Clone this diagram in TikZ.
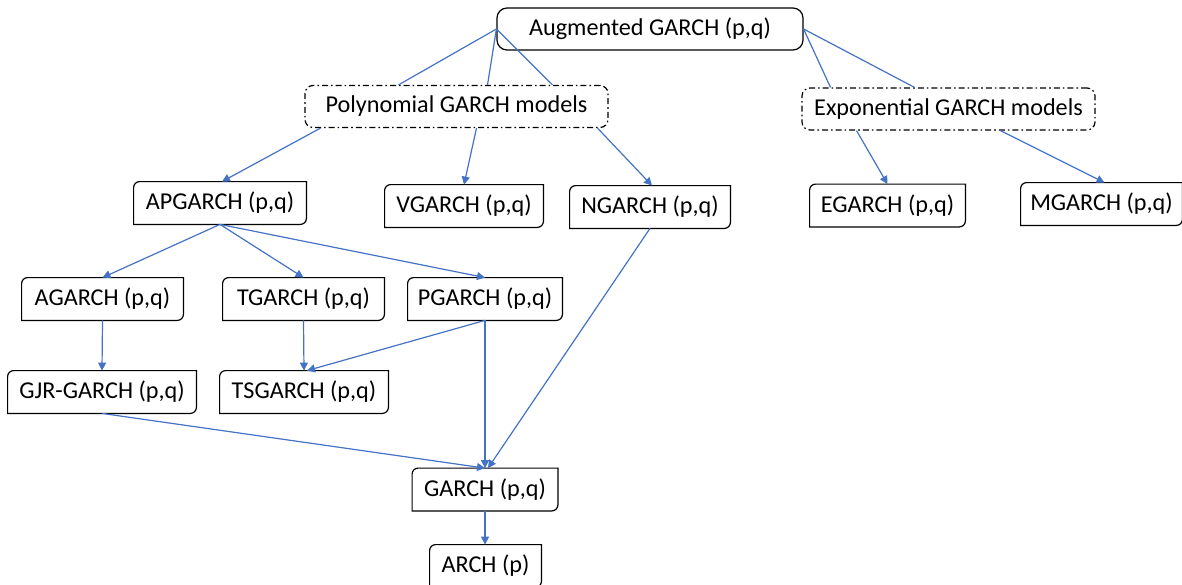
\documentclass[tikz,border=0pt]{standalone}
\usepackage{fontspec}
\setmainfont{Carlito}
\usetikzlibrary{arrows.meta}

\definecolor{linkblue}{HTML}{4472C4}

\tikzset{
    model/.style={minimum height=21pt, inner sep=0pt, font=\fontsize{12.1}{14}\selectfont},
    group/.style={model, draw, line width=0.6pt, rounded corners=4pt,
        dash pattern=on 3pt off 1.5pt on 0.8pt off 1.5pt},
    link/.style={linkblue, line width=0.6pt},
    arr/.style={link, -{Triangle[length=4pt,width=4pt]}},
}

% frame with two rounded corners (top left, bottom right)
\newcommand{\diagframe}[1]{%
    \draw[line width=0.6pt] (#1.south west) -- ([yshift=-3pt]#1.north west)
        arc[start angle=180, end angle=90, radius=3pt] -- (#1.north east)
        -- ([yshift=3pt]#1.south east)
        arc[start angle=0, end angle=-90, radius=3pt] -- cycle;}

\begin{document}
\begin{tikzpicture}[x=0.5pt, y=-0.5pt]
    \useasboundingbox (0, 0) rectangle (1182, 584);

    \node[model, draw, line width=0.6pt, rounded corners=5pt, minimum width=153pt] (aug) at (650, 29) {Augmented GARCH (p,q)};
    \node[group, minimum width=151.5pt] (poly) at (456.5, 106.5) {Polynomial GARCH models};
    \node[group, minimum width=146.5pt] (expo) at (948.5, 109) {Exponential GARCH models};

    \node[model, minimum width=86pt] (apg) at (220, 203) {APGARCH (p,q)};
    \node[model, minimum width=79pt] (vg) at (464, 206) {VGARCH (p,q)};
    \node[model, minimum width=80pt] (ng) at (650, 207) {NGARCH (p,q)};
    \node[model, minimum width=77.5pt] (eg) at (887.5, 205.5) {EGARCH (p,q)};
    \node[model, minimum width=80.5pt] (mg) at (1101.5, 204) {MGARCH (p,q)};

    \node[model, minimum width=80.5pt] (ag) at (102.5, 299) {AGARCH (p,q)};
    \node[model, minimum width=80.5pt] (tg) at (303.5, 299) {TGARCH (p,q)};
    \node[model, minimum width=77pt] (pg) at (485, 299) {PGARCH (p,q)};

    \node[model, minimum width=94pt] (gjr) at (102, 392) {GJR-GARCH (p,q)};
    \node[model, minimum width=84pt] (tsg) at (304, 392) {TSGARCH (p,q)};

    \node[model, minimum width=72.5pt] (garch) at (485, 489.5) {GARCH (p,q)};
    \node[model, minimum width=55.5pt] (arch) at (485.5, 566) {ARCH (p)};

    \foreach \n in {apg, vg, ng, eg, mg, ag, tg, pg, gjr, tsg, garch, arch}
        {\diagframe{\n}}

    % top level
    \draw[link] (aug.west) -- ([xshift=-29pt]poly.north);
    \draw[link] (aug.west) -- ([xshift=15.5pt]poly.north);
    \draw[link] (aug.west) -- ([xshift=48pt]poly.north);
    \draw[link] (aug.east) -- ([xshift=-59pt]expo.north);
    \draw[link] (aug.east) -- ([xshift=-17pt]expo.north);

    % families
    \draw[arr] ([xshift=-68pt]poly.south) -- ([xshift=1pt]apg.north);
    \draw[arr] ([xshift=10pt]poly.south) -- (vg.north);
    \draw[arr] ([xshift=70.5pt]poly.south) -- ([xshift=1pt]ng.north);
    \draw[arr] ([xshift=-46pt]expo.south) -- (eg.north);
    \draw[arr] ([xshift=26pt]expo.south) -- ([xshift=1.5pt]mg.north);

    % asymmetric power branch
    \draw[arr] (apg.south) -- (ag.north);
    \draw[arr] (apg.south) -- (tg.north);
    \draw[arr] (apg.south) -- (pg.north);
    \draw[arr] (ag.south) -- (gjr.north);
    \draw[arr] (tg.south) -- (tsg.north);
    \draw[arr] (pg.south) -- ([xshift=1.5pt]tsg.north);

    % down to GARCH and ARCH
    \draw[arr] (pg.south) -- (garch.north);
    \draw[arr] (ng.south) -- ([xshift=1.5pt]garch.north);
    \draw[arr] (gjr.south) -- (garch.north);
    \draw[arr] (garch.south) -- (garch.south |- arch.north);
\end{tikzpicture}
\end{document}
